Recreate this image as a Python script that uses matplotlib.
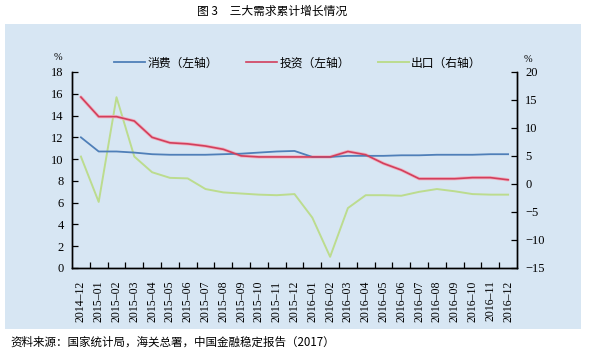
import matplotlib
matplotlib.use("Agg")
import matplotlib.pyplot as plt
from matplotlib.patches import Rectangle
from matplotlib.ticker import MultipleLocator, FixedLocator

months = ["2014–12", "2015–01", "2015–02", "2015–03", "2015–04", "2015–05", "2015–06",
          "2015–07", "2015–08", "2015–09", "2015–10", "2015–11", "2015–12",
          "2016–01", "2016–02", "2016–03", "2016–04", "2016–05", "2016–06",
          "2016–07", "2016–08", "2016–09", "2016–10", "2016–11", "2016–12"]
consumption = [12.0, 10.7, 10.7, 10.6, 10.45, 10.4, 10.4, 10.4, 10.45, 10.5, 10.6, 10.7, 10.75,
               10.2, 10.2, 10.3, 10.3, 10.3, 10.35, 10.35, 10.4, 10.4, 10.4, 10.45, 10.45]
investment = [15.7, 13.9, 13.9, 13.5, 12.0, 11.5, 11.4, 11.2, 10.9, 10.3, 10.2, 10.2, 10.2,
              10.2, 10.2, 10.7, 10.4, 9.6, 9.0, 8.2, 8.2, 8.2, 8.3, 8.3, 8.1]
exports = [4.9, -3.2, 15.5, 4.9, 2.1, 1.1, 1.0, -0.9, -1.5, -1.7, -1.9, -2.0, -1.8,
           -6.0, -13.0, -4.3, -2.0, -2.0, -2.1, -1.4, -0.9, -1.3, -1.8, -1.9, -1.9]

W, H = 596, 352
fig = plt.figure(figsize=(W / 100, H / 100), dpi=100)
fig.patch.set_facecolor("white")
panel_color = "#d7e6f3"
fig.patches.append(Rectangle((5 / W, 1 - 329 / H), 576 / W, 305 / H,
                             transform=fig.transFigure, facecolor=panel_color,
                             edgecolor="none", zorder=-10))

cjk = ["Noto Sans CJK SC", "DejaVu Sans"]
serif = ["Liberation Serif", "DejaVu Serif"]

ax = fig.add_axes([72 / W, 1 - 268 / H, 445 / W, 196 / H])
ax.set_facecolor("none")
ax2 = ax.twinx()
ax2.set_facecolor("none")

x = list(range(len(months)))
c_blue = "#4f7fb8"
c_red = "#d23f5c"
c_green = "#bcdc8e"

l3, = ax2.plot(x, exports, color=c_green, lw=1.4, zorder=2)
ax.plot(x, investment, color="#efb3c2", lw=2.4, zorder=3, solid_capstyle="round")
l1, = ax.plot(x, consumption, color=c_blue, lw=1.3, zorder=4)
l2, = ax.plot(x, investment, color=c_red, lw=1.2, zorder=5)
ax2.set_zorder(1)
ax.set_zorder(2)

ax.set_xlim(-0.5, len(months) - 0.5)
ax.set_ylim(0, 18)
ax2.set_ylim(-15, 20)
ax.yaxis.set_major_locator(MultipleLocator(2))
ax2.yaxis.set_major_locator(MultipleLocator(5))

ax.xaxis.set_major_locator(FixedLocator(x))
ax.set_xticklabels(months, rotation=90, fontfamily=serif, fontsize=8.5)
ax.xaxis.set_minor_locator(FixedLocator([i + 0.5 for i in x[:-1]]))
ax.tick_params(axis="x", which="major", length=0, pad=9)
ax.tick_params(axis="x", which="minor", direction="in", length=4, width=0.9, color="black")
ax.tick_params(axis="y", direction="in", length=4, width=0.9, labelsize=9, pad=6)
ax2.tick_params(axis="y", direction="in", length=4, width=0.9, labelsize=9, pad=6)
for lab in ax.get_yticklabels() + ax2.get_yticklabels():
    lab.set_fontfamily(serif)

for a in (ax, ax2):
    a.spines["top"].set_visible(False)
    for s in ("left", "right", "bottom"):
        a.spines[s].set_color("black")
        a.spines[s].set_linewidth(1.0)

fig.text(58 / W, 1 - 57 / H, "%", fontsize=7.5, fontfamily=serif, ha="center", va="center")
fig.text(528 / W, 1 - 60 / H, "%", fontsize=7.5, fontfamily=serif, ha="center", va="center")

leg = fig.legend([l1, l2, l3], ["消费（左轴）", "投资（左轴）", "出口（右轴）"],
                 loc="center", bbox_to_anchor=(298 / W, 1 - 63 / H), ncol=3,
                 frameon=False, handlelength=2.6, columnspacing=2.4, handletextpad=0.2,
                 prop={"family": cjk, "size": 8.5})

fig.text(272 / W, 1 - 11 / H, "图 3　三大需求累计增长情况", fontsize=8.5, fontfamily=cjk,
         ha="center", va="center")
fig.text(10 / W, 1 - 342 / H, "资料来源：国家统计局，海关总署，中国金融稳定报告（2017）",
         fontsize=8.3, fontfamily=cjk, ha="left", va="center")

fig.savefig("out.png", dpi=100, facecolor="white")
